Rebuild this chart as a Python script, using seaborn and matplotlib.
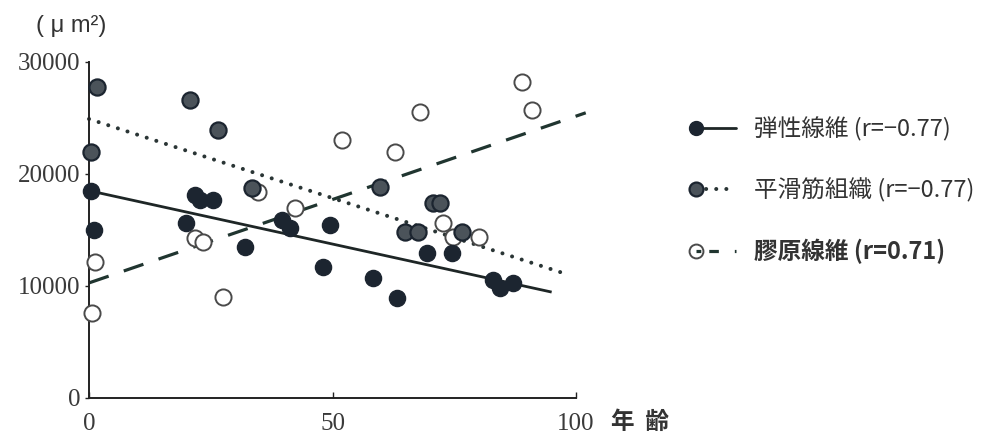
import numpy as np
import pandas as pd
import matplotlib
matplotlib.use("Agg")
import matplotlib.pyplot as plt
from matplotlib.lines import Line2D
from matplotlib.legend_handler import HandlerLine2D
import seaborn as sns

# ---- data ----
elastic_age = [0.4, 1.0, 20.0, 21.8, 22.8, 25.5, 32.0, 39.6, 41.3, 48.0, 49.5, 58.3, 63.2, 69.4, 74.5, 83.0, 84.4, 87.0]
elastic_val = [18480, 15000, 15600, 18120, 17680, 17680, 13480, 15890, 15180, 11700, 15450, 10710, 8930, 12950, 12950, 10540, 9820, 10270]

smooth_age = [1.6, 0.4, 20.7, 26.5, 33.5, 59.8, 70.6, 72.0, 64.9, 67.6, 76.6]
smooth_val = [27770, 21960, 26600, 23930, 18750, 18840, 17400, 17400, 14820, 14820, 14820]

collagen_age = [1.2, 0.6, 27.5, 21.8, 23.4, 34.7, 42.3, 52.0, 62.8, 68.0, 89.0, 91.0, 72.7, 74.8, 80.0]
collagen_val = [12140, 7590, 9020, 14290, 13930, 18390, 16960, 23040, 21960, 25540, 28210, 25710, 15630, 14380, 14380]

# regression lines (end points)
elastic_line_x = [0, 95]
elastic_line_y = [18500, 9450]
smooth_line_x = [0, 97]
smooth_line_y = [24900, 11200]
collagen_line_x = [0, 102]
collagen_line_y = [10270, 25450]

x_ticks = [0, 50, 100]
y_ticks = [0, 10000, 20000, 30000]

labels = ["弾性線維 (r=−0.77)", "平滑筋組織 (r=−0.77)", "膠原線維 (r=0.71)"]

# ---- style ----
sns.set_style("ticks")
plt.rcParams['font.family'] = ['Liberation Serif', 'DejaVu Sans']

c_el = "#1c2530"
c_sm_face = "#4b535a"
c_col_edge = "#4a4a4a"
c_solid = "#1e2626"
c_dot = "#2a3535"
c_dash = "#203530"

fig = plt.figure(figsize=(10, 4.4), dpi=100)
ax = fig.add_axes([0.089, 0.0955, 0.487, 0.764])

dot_style = (0, (0.01, 2.5))
dash_style = (0, (6.5, 5))

sns.lineplot(x=elastic_line_x, y=elastic_line_y, ax=ax, color=c_solid, linewidth=2.0,
             solid_capstyle='butt', zorder=2)
sns.lineplot(x=smooth_line_x, y=smooth_line_y, ax=ax, color=c_dot, linewidth=2.9,
             linestyle=dot_style, dash_capstyle='round', zorder=2)
sns.lineplot(x=collagen_line_x, y=collagen_line_y, ax=ax, color=c_dash, linewidth=2.3,
             linestyle=dash_style, dash_capstyle='butt', zorder=2)

sns.scatterplot(x=collagen_age, y=collagen_val, ax=ax, s=135, color="white",
                edgecolor=c_col_edge, linewidth=1.4, zorder=3)
sns.scatterplot(x=elastic_age, y=elastic_val, ax=ax, s=135, color=c_el,
                edgecolor=c_el, linewidth=1.0, zorder=4)
sns.scatterplot(x=smooth_age, y=smooth_val, ax=ax, s=135, color=c_sm_face,
                edgecolor=c_el, linewidth=1.6, zorder=4)

for art in ax.collections + ax.lines:
    art.set_clip_on(False)

ax.set_xlim(0, 100)
ax.set_ylim(0, 30000)
ax.set_xticks(x_ticks)
ax.set_xticklabels([str(v) for v in x_ticks])
ax.set_yticks(y_ticks)
ax.set_yticklabels([str(v) for v in y_ticks])
ax.set_xlabel("")
ax.set_ylabel("")
sns.despine(ax=ax)
for sp in ["left", "bottom"]:
    ax.spines[sp].set_color("#222222")
    ax.spines[sp].set_linewidth(1.4)
ax.tick_params(axis='x', direction='in', length=4, width=1, colors="#222222",
               labelsize=18, labelcolor="#3a3a3a", pad=11)
ax.tick_params(axis='y', direction='out', length=3, width=1, colors="#222222",
               labelsize=18, labelcolor="#3a3a3a", pad=3)

# unit label and axis title
fig.text(0.071, 0.94, "( μ m²)", ha='center', va='center', fontsize=17,
         family=['Liberation Sans', 'DejaVu Sans'], color="#333333")
fig.text(0.611, 0.04, "年  齢", ha='left', va='center', fontsize=17,
         family=['Noto Sans CJK JP', 'DejaVu Sans'], fontweight='bold', color="#333333")


class LeftMarkerHandler(HandlerLine2D):
    def create_artists(self, legend, orig_handle, xdescent, ydescent, width, height,
                       fontsize, trans):
        artists = super().create_artists(legend, orig_handle, xdescent, ydescent,
                                         width, height, fontsize, trans)
        for a in artists:
            a.set_markevery([0])
        return artists


# legend
handles = [
    Line2D([0], [0], color=c_solid, linewidth=2.0, marker='o', markersize=10,
           markerfacecolor=c_el, markeredgecolor=c_el),
    Line2D([0], [0], color=c_dot, linewidth=2.9, linestyle=dot_style, dash_capstyle='round',
           marker='o', markersize=10, markerfacecolor=c_sm_face, markeredgecolor=c_el,
           markeredgewidth=1.6),
    Line2D([0], [0], color=c_dash, linewidth=2.3, linestyle=(0, (1.5, 2.5, 3.0, 5)),
           marker='o', markersize=10, markerfacecolor='none', markeredgecolor=c_col_edge,
           markeredgewidth=1.4),
]
leg = ax.legend(handles, labels, loc='upper left', bbox_to_anchor=(0.668, 0.783),
                bbox_transform=fig.transFigure, frameon=False, numpoints=2,
                handlelength=2.3, handletextpad=0.45, labelspacing=1.55,
                handler_map={Line2D: LeftMarkerHandler()},
                prop={'family': ['Noto Sans CJK JP', 'DejaVu Sans'], 'size': 17})
for t in leg.get_texts():
    t.set_color("#333333")
leg.get_texts()[2].set_fontweight('bold')

fig.savefig("out.png", dpi=100)
